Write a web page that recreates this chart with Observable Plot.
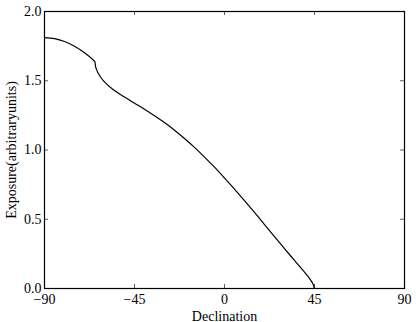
<!DOCTYPE html>
<html>
<head>
<meta charset="utf-8">
<script src="https://cdn.jsdelivr.net/npm/d3@7"></script>
<script src="https://cdn.jsdelivr.net/npm/@observablehq/plot@0.6"></script>
<style>
  html, body { margin: 0; padding: 0; background: #fff; }
  #chart svg, #chart svg text { font-family: "Liberation Serif", "DejaVu Serif", serif !important; }
</style>
</head>
<body>
<div id="chart"></div>
<script>
// Declination (degrees) and relative exposure
const declination = [-90, -85, -80, -75, -70, -65, -64.8, -64.5, -64, -63, -62, -60, -55, -50, -45, -40, -35, -30, -25, -20, -15, -10, -5, 0, 5, 10, 15, 20, 25, 30, 35, 38, 40, 42, 43, 44, 44.5, 44.7, 44.8];
const exposure    = [1.811, 1.804, 1.783, 1.749, 1.702, 1.641, 1.638, 1.605, 1.582, 1.550, 1.527, 1.492, 1.429, 1.382, 1.338, 1.295, 1.248, 1.198, 1.143, 1.083, 1.019, 0.949, 0.876, 0.798, 0.718, 0.634, 0.549, 0.462, 0.375, 0.288, 0.203, 0.152, 0.1175, 0.0823, 0.0626, 0.0395, 0.0235, 0.0134, 0];

const xTicks = [-90, -45, 0, 45, 90];
const yTicks = [0, 0.5, 1.0, 1.5, 2.0];
const xLabel = "Declination";
const yLabel = "Exposure(arbitraryunits)";

const data = declination.map((d, i) => ({dec: d, exp: exposure[i]}));

const W = 416, H = 322;
const mL = 44, mR = 12, mT = 11, mB = 34;
const innerW = W - mL - mR, innerH = H - mT - mB;
const tickLen = 4;

const chart = Plot.plot({
  width: W,
  height: H,
  marginLeft: mL,
  marginRight: mR,
  marginTop: mT,
  marginBottom: mB,
  style: "font-family: 'Liberation Serif', 'DejaVu Serif', serif; font-size: 14px; color: #000; background: #fff;",
  x: {domain: [-90, 90], ticks: xTicks, label: null},
  y: {domain: [0, 2], ticks: yTicks, label: null},
  marks: [
    Plot.axisX(xTicks, {tickSize: 0, tickPadding: 6, tickFormat: d => d3.format("d")(d), fontSize: 14}),
    Plot.axisY(yTicks, {tickSize: 0, tickPadding: 3, tickFormat: d3.format(".1f"), fontSize: 14}),
    Plot.axisX({anchor: "bottom", ticks: [], tickSize: 0, label: xLabel, labelAnchor: "center", labelArrow: "none", labelOffset: 32, fontSize: 14}),
    Plot.axisY({anchor: "left", ticks: [], tickSize: 0, label: yLabel, labelAnchor: "center", labelArrow: "none", labelOffset: 38, fontSize: 14}),
    // inward ticks on all four sides
    Plot.tickX(xTicks, {x: d => d, insetTop: innerH - tickLen, stroke: "#333", strokeWidth: 0.8}),
    Plot.tickX(xTicks, {x: d => d, insetBottom: innerH - tickLen, stroke: "#333", strokeWidth: 0.8}),
    Plot.tickY(yTicks, {y: d => d, insetRight: innerW - tickLen, stroke: "#333", strokeWidth: 0.8}),
    Plot.tickY(yTicks, {y: d => d, insetLeft: innerW - tickLen, stroke: "#333", strokeWidth: 0.8}),
    Plot.line(data, {x: "dec", y: "exp", stroke: "#000", strokeWidth: 1.2, curve: "monotone-x"}),
    Plot.frame({stroke: "#000", strokeWidth: 1.2})
  ]
});
document.getElementById("chart").appendChild(chart);
</script>
</body>
</html>
